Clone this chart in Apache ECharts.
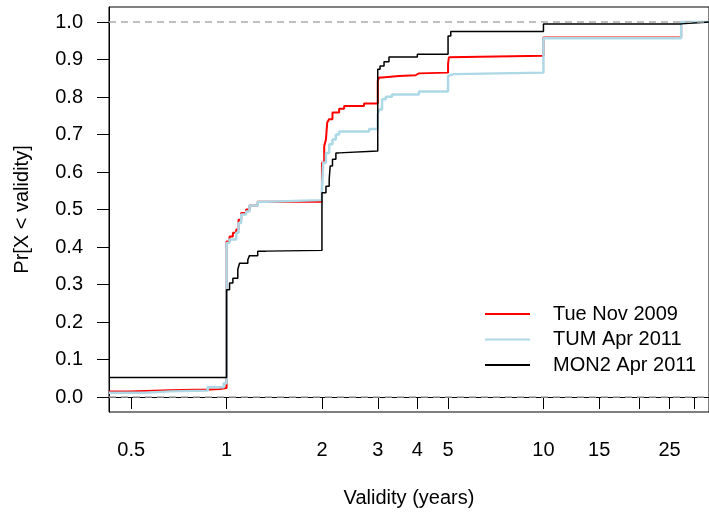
<!DOCTYPE html>
<html>
<head>
<meta charset="utf-8">
<title>Validity ECDF</title>
<script src="https://cdn.jsdelivr.net/npm/echarts@6/dist/echarts.min.js"></script>
<style>
  html, body { margin: 0; padding: 0; background: #fff; }
  #chart { width: 709px; height: 516px; }
</style>
</head>
<body>
<div id="chart"></div>
<script>
// axis ticks (years, log scale)
var xTicks = [0.5, 1, 2, 3, 4, 5, 10, 15, 20, 25, 30];
var xLabels = [0.5, 1, 2, 3, 4, 5, 10, 15, 25];
var yTicks = [0, 0.1, 0.2, 0.3, 0.4, 0.5, 0.6, 0.7, 0.8, 0.9, 1.0];

// Tue Nov 2009 (red)
var tueX = [0.4256, 0.4955, 0.662, 0.884, 0.951, 1.0, 1.022, 1.047, 1.073, 1.091, 1.112, 1.153, 1.181, 1.254,
            2.0, 2.033, 2.059, 2.078, 2.108, 2.159, 2.266, 2.35, 2.716,
            3.0, 3.03, 3.095, 3.5, 3.95, 4.045, 5.0, 5.03, 5.1, 10.0, 27.2, 33.3];
var tueY = [0.015, 0.018, 0.020, 0.021, 0.024, 0.415, 0.428, 0.438, 0.447, 0.473, 0.491, 0.500, 0.511, 0.521,
            0.625, 0.669, 0.687, 0.732, 0.741, 0.759, 0.769, 0.776, 0.783,
            0.843, 0.852, 0.856, 0.858, 0.863, 0.865, 0.888, 0.906, 0.910, 0.959, 1.0, 1.0];

// TUM Apr 2011 (light blue)
var tumX = [0.4256, 0.552, 0.662, 0.872, 0.98, 1.0, 1.022, 1.073, 1.091, 1.112, 1.153, 1.181, 1.254, 1.27,
            2.0, 2.018, 2.059, 2.108, 2.159, 2.213, 2.266, 2.817,
            3.0, 3.03, 3.095, 3.18, 3.327, 4.045, 5.0, 5.03, 5.21, 10.0, 27.2, 33.3];
var tumY = [0.0115, 0.015, 0.017, 0.026, 0.037, 0.411, 0.420, 0.438, 0.464, 0.487, 0.495, 0.511, 0.520, 0.525,
            0.553, 0.625, 0.651, 0.674, 0.687, 0.700, 0.708, 0.715,
            0.754, 0.767, 0.794, 0.801, 0.807, 0.815, 0.856, 0.861, 0.865, 0.957, 1.0, 1.0];

// MON2 Apr 2011 (black)
var monX = [0.4256, 1.0, 1.022, 1.047, 1.085, 1.099, 1.167, 1.181, 1.254, 1.333,
            2.0, 2.059, 2.108, 2.123, 2.159, 2.213, 2.266,
            3.0, 3.05, 3.14, 3.255, 4.0, 5.0, 5.1, 10.0, 27.2, 33.3];
var monY = [0.052, 0.286, 0.304, 0.317, 0.340, 0.357, 0.366, 0.377, 0.389, 0.391,
            0.545, 0.562, 0.580, 0.616, 0.634, 0.651, 0.656,
            0.874, 0.883, 0.894, 0.907, 0.914, 0.963, 0.975, 0.995, 1.0, 1.0];

function pairs(xs, ys) {
    return xs.map(function (x, i) { return [x, ys[i]]; });
}

var font = 'Liberation Sans, Arial, Helvetica, sans-serif';
var myChart = echarts.init(document.getElementById('chart'), null, {renderer: 'canvas'});

var option = {
    animation: false,
    backgroundColor: '#fff',
    textStyle: { fontFamily: font, color: '#000' },
    grid: {
        left: 109, top: 7, right: -2, bottom: 104,
        show: true, borderColor: '#000', borderWidth: 1, backgroundColor: 'transparent'
    },
    legend: {
        orient: 'vertical',
        left: 480, top: 299,
        itemWidth: 45, itemHeight: 2, itemGap: 5.5,
        icon: 'rect',
        textStyle: { fontFamily: font, fontSize: 20, color: '#000', padding: [0, 0, 0, 18] },
        data: ['Tue Nov 2009', 'TUM Apr 2011', 'MON2 Apr 2011']
    },
    xAxis: {
        type: 'log',
        logBase: 10,
        min: 0.4256,
        max: 33.3,
        name: 'Validity (years)',
        nameLocation: 'middle',
        nameGap: 76,
        nameTextStyle: { fontFamily: font, fontSize: 20, color: '#000' },
        axisLine: { show: true, lineStyle: { color: '#000', width: 1 } },
        axisTick: { show: true, inside: false, length: 12, customValues: xTicks, lineStyle: { color: '#000' } },
        axisLabel: {
            customValues: xLabels,
            margin: 28,
            fontFamily: font, fontSize: 20, color: '#000',
            formatter: function (v) { return String(v); }
        },
        splitLine: { show: false },
        minorTick: { show: false }
    },
    yAxis: {
        type: 'value',
        min: -0.04,
        max: 1.04,
        name: 'Pr[X < validity]',
        nameLocation: 'middle',
        nameGap: 77,
        nameTextStyle: { fontFamily: font, fontSize: 20, color: '#000' },
        axisLine: { show: true, lineStyle: { color: '#000', width: 1 } },
        axisTick: { show: true, inside: false, length: 12, customValues: yTicks, lineStyle: { color: '#000' } },
        axisLabel: {
            customValues: yTicks,
            margin: 26,
            fontFamily: font, fontSize: 20, color: '#000',
            formatter: function (v) { return Number(v).toFixed(1); }
        },
        splitLine: { show: false }
    },
    series: [
        {
            name: 'Tue Nov 2009',
            type: 'line',
            step: 'end',
            showSymbol: false,
            color: '#ff0000',
            lineStyle: { color: '#ff0000', width: 2 },
            data: pairs(tueX, tueY),
            z: 2,
            markLine: {
                silent: true,
                symbol: ['none', 'none'],
                label: { show: false },
                lineStyle: { color: '#aaaaaa', type: [7, 5], width: 1.5 },
                data: [{ yAxis: 0 }, { yAxis: 1 }]
            }
        },
        {
            name: 'TUM Apr 2011',
            type: 'line',
            step: 'end',
            showSymbol: false,
            color: '#add8e6',
            lineStyle: { color: '#add8e6', width: 2.5 },
            data: pairs(tumX, tumY),
            z: 3
        },
        {
            name: 'MON2 Apr 2011',
            type: 'line',
            step: 'end',
            showSymbol: false,
            color: '#000000',
            lineStyle: { color: '#000000', width: 1.5 },
            data: pairs(monX, monY),
            z: 4
        }
    ]
};
myChart.setOption(option);
</script>
</body>
</html>
